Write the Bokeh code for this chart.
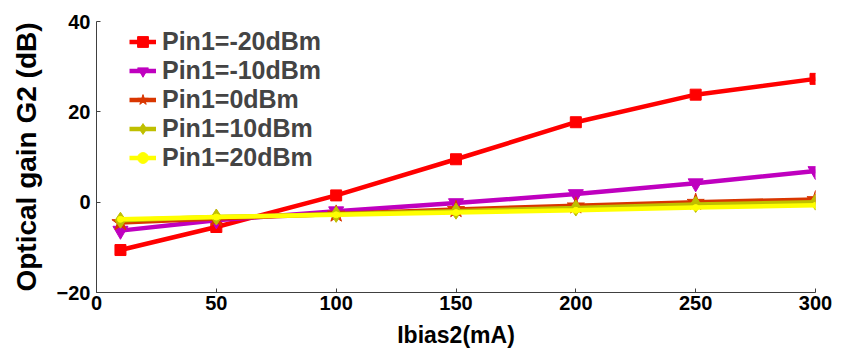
from bokeh.plotting import figure
from bokeh.models import Range1d, FixedTicker, Legend, LegendItem
from bokeh.embed import file_html
from bokeh.resources import INLINE

ibias = [10, 50, 100, 150, 200, 250, 300]
g_m20 = [-10.6, -5.5, 1.5, 9.5, 17.7, 23.8, 27.3]
g_m10 = [-6.3, -4.0, -2.0, -0.2, 1.8, 4.2, 6.9]
g_0 = [-4.5, -3.6, -2.6, -1.6, -0.8, 0.0, 0.6]
g_10 = [-4.0, -3.3, -2.7, -2.0, -1.3, -0.5, 0.0]
g_20 = [-3.8, -3.3, -2.8, -2.3, -1.8, -1.2, -0.7]
labels = ["Pin1=-20dBm", "Pin1=-10dBm", "Pin1=0dBm", "Pin1=10dBm", "Pin1=20dBm"]
x_ticks = [0, 50, 100, 150, 200, 250, 300]
y_ticks = [-20, 0, 20, 40]

FONT = "Liberation Sans"

p = figure(width=832, height=351, output_backend="svg", toolbar_location=None,
           x_range=Range1d(0, 300), y_range=Range1d(-20, 40),
           min_border_left=96, min_border_right=17, min_border_top=21, min_border_bottom=59)
p.outline_line_color = None
p.xgrid.visible = False
p.ygrid.visible = False

series = [
    (g_m20, "#FF0000", "square", 11),
    (g_m10, "#BF00BF", "inverted_triangle", 15),
    (g_0, "#D93600", "star", 18),
    (g_10, "#BFBF00", "diamond", 16),
    (g_20, "#FFFF00", "circle", 6),
]
items = []
for (ys, col, mk, sz), lab in zip(series, labels):
    ln = p.line(ibias, ys, line_color=col, line_width=4.5)
    sc = p.scatter(ibias, ys, marker=mk, size=sz, fill_color=col, line_color=col)
    items.append(LegendItem(label=lab, renderers=[ln, sc]))

legend = Legend(items=items, location=(33, 120), border_line_color=None,
                background_fill_alpha=0, padding=0, margin=0, spacing=0,
                label_height=29, glyph_height=29, glyph_width=27, label_standoff=6,
                label_text_font=FONT, label_text_font_style="bold", label_text_font_size="25px")
p.add_layout(legend)

for ax in (p.xaxis[0], p.yaxis[0]):
    ax.axis_line_color = "#404040"
    ax.major_tick_line_color = "#404040"
    ax.major_tick_in = 4
    ax.major_tick_out = 0
    ax.minor_tick_line_color = None
    ax.major_label_text_font = FONT
    ax.major_label_text_font_style = "bold"
    ax.major_label_text_font_size = "20px"
    ax.major_label_text_color = "black"
    ax.axis_label_text_font = FONT
    ax.axis_label_text_font_style = "bold"
    ax.axis_label_text_color = "black"

p.xaxis.ticker = FixedTicker(ticks=x_ticks)
p.yaxis.ticker = FixedTicker(ticks=y_ticks)
p.xaxis.axis_label = "Ibias2(mA)"
p.yaxis.axis_label = "Optical gain G2 (dB)"
p.xaxis.axis_label_text_font_size = "23px"
p.yaxis.axis_label_text_font_size = "28px"
p.xaxis.major_label_standoff = 3
p.yaxis.major_label_standoff = 6
p.xaxis.axis_label_standoff = 9
p.yaxis.axis_label_standoff = 12

open("out.html", "w").write(file_html(p, INLINE))
